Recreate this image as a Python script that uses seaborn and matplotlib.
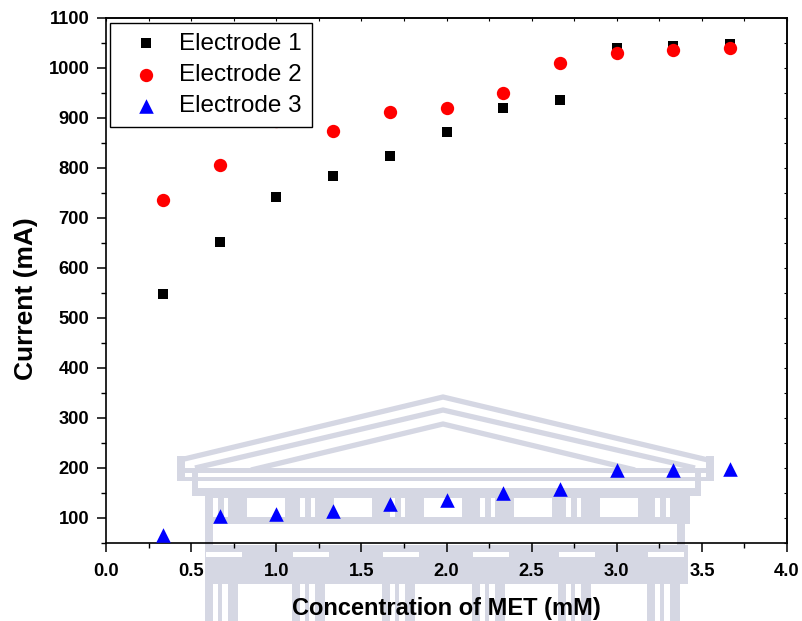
import matplotlib
matplotlib.use('Agg')
import matplotlib.pyplot as plt
import matplotlib.transforms as mtransforms
from matplotlib.patches import Rectangle
from matplotlib.lines import Line2D
from matplotlib.ticker import MultipleLocator
import seaborn as sns
import numpy as np

# ---------------- data ----------------
conc = [0.333, 0.667, 1.0, 1.333, 1.667, 2.0, 2.333, 2.667, 3.0, 3.333, 3.667]
electrode1 = [549, 653, 743, 784, 824, 873, 921, 937, 1041, 1045, 1049]
electrode2 = [736, 807, 895, 875, 912, 921, 951, 1010, 1031, 1037, 1041]
electrode3 = [66, 104, 109, 115, 128, 137, 151, 159, 196, 196, 199]
series_names = ['Electrode 1', 'Electrode 2', 'Electrode 3']
xticks = [0.0, 0.5, 1.0, 1.5, 2.0, 2.5, 3.0, 3.5, 4.0]
xtick_labels = ['0.0', '0.5', '1.0', '1.5', '2.0', '2.5', '3.0', '3.5', '4.0']
yticks = [100, 200, 300, 400, 500, 600, 700, 800, 900, 1000, 1100]
ytick_labels = ['100', '200', '300', '400', '500', '600', '700', '800', '900', '1000', '1100']
x_label = 'Concentration of MET (mM)'
y_label = 'Current (mA)'

sns.set_style('ticks')
plt.rcParams['font.family'] = ['Liberation Sans', 'DejaVu Sans']
plt.rcParams['text.color'] = 'black'
plt.rcParams['axes.labelcolor'] = 'black'
plt.rcParams['xtick.color'] = 'black'
plt.rcParams['ytick.color'] = 'black'

W, H = 802, 621
fig = plt.figure(figsize=(W / 100, H / 100), dpi=100)
fig.patch.set_facecolor('white')

# ---------------- faint background watermark (decorative building) ----------------
tr = mtransforms.Affine2D().scale(1 / W, -1 / H).translate(0, 1) + fig.transFigure
wm = '#d5d7e3'

def wrect(x0, y0, x1, y1, c=wm):
    fig.add_artist(Rectangle((x0, y0), x1 - x0, y1 - y0, transform=tr,
                             facecolor=c, edgecolor='none', zorder=-5))

def wline(pts, lw=3.8):
    xs = [p[0] for p in pts]
    ys = [p[1] for p in pts]
    fig.add_artist(Line2D(xs, ys, transform=tr, color=wm, lw=lw, zorder=-5,
                          solid_capstyle='butt', solid_joinstyle='miter'))

wline([(180, 460), (443, 397), (708, 460)])
wline([(195, 468), (443, 410), (695, 468)])
wline([(251, 470), (443, 424), (635, 470)])
wrect(177, 456, 185, 481)
wrect(706, 456, 714, 481)
wrect(184, 468, 707, 473)
wrect(184, 477, 707, 481)
wrect(192, 470, 198, 496)
wrect(695, 470, 701, 496)
wrect(192, 488, 701, 496)
wrect(205, 496, 690, 518)
groups = [205, 292, 382, 472, 558, 647]
for g in groups:
    wrect(g + 8, 498, g + 13, 517, 'white')
    wrect(g + 19, 498, g + 23, 517, 'white')
    if g + 82 < 690:
        wrect(g + 42, 498, g + 80, 517, 'white')
wrect(205, 518, 690, 524)
wrect(205, 524, 213, 545)
wrect(677, 524, 685, 545)
wrect(205, 545, 688, 584)
for g in groups:
    wrect(g + 1, 552, g + 37, 557, 'white')
    wrect(g, 584, g + 8, 621)
    wrect(g + 13, 584, g + 17, 621)
    wrect(g + 23, 584, g + 33, 621)

# ---------------- axes ----------------
ax = fig.add_axes([106 / W, 1 - 543 / H, 681 / W, 525 / H])
ax.patch.set_alpha(0)

sns.scatterplot(x=conc, y=electrode1, marker='s', color='black', s=62,
                linewidth=0, ax=ax, label=series_names[0], zorder=3)
sns.scatterplot(x=conc, y=electrode2, marker='o', color='#ff0000', s=92,
                linewidth=0, ax=ax, label=series_names[1], zorder=4)
sns.scatterplot(x=conc, y=electrode3, marker='^', color='#0000ff', s=110,
                linewidth=0, ax=ax, label=series_names[2], zorder=5)

ax.set_xlim(0, 4)
ax.set_ylim(50, 1100)
ax.set_xticks(xticks)
ax.set_xticklabels(xtick_labels)
ax.set_yticks(yticks)
ax.set_yticklabels(ytick_labels)
ax.xaxis.set_minor_locator(MultipleLocator(0.25))
ax.yaxis.set_minor_locator(MultipleLocator(50))

for sp in ax.spines.values():
    sp.set_visible(True)
    sp.set_linewidth(1.2)
    sp.set_color('black')

ax.tick_params(which='major', direction='out', length=6.5, width=1.1,
               color='black', labelsize=13.2, labelcolor='black')
ax.tick_params(axis='x', which='major', pad=8.0)
ax.tick_params(axis='y', which='major', pad=5.5)
ax.tick_params(which='minor', direction='out', length=3.5, width=1.0, color='black')
for lbl in ax.get_xticklabels() + ax.get_yticklabels():
    lbl.set_fontweight('bold')

# small inward ticks on top and right
secx = ax.secondary_xaxis('top')
secx.set_xticks(xticks)
secx.xaxis.set_minor_locator(MultipleLocator(0.25))
secx.tick_params(which='both', direction='in', length=2.5, width=0.8, labeltop=False)
secx.spines['top'].set_linewidth(1.2)
secy = ax.secondary_yaxis('right')
secy.set_yticks(yticks)
secy.yaxis.set_minor_locator(MultipleLocator(50))
secy.tick_params(which='both', direction='in', length=2.5, width=0.8, labelright=False)
secy.spines['right'].set_linewidth(1.2)

ax.set_xlabel(x_label, fontsize=17.0, fontweight='bold', labelpad=12.0, color='black')
ax.set_ylabel(y_label, fontsize=19.0, fontweight='bold', color='black')
ax.yaxis.set_label_coords((38 - 106) / 681, (543 - 299) / 525)

leg = ax.legend(loc='upper left', bbox_to_anchor=(4 / 681, 1 - 5 / 525),
                borderaxespad=0, frameon=True, fancybox=False, framealpha=1,
                edgecolor='black', prop={'family': ['Liberation Sans'], 'size': 17.5},
                borderpad=0.4, handlelength=2.15, handletextpad=0.3,
                labelspacing=0.38)
leg.get_frame().set_linewidth(1.0)
leg.set_zorder(10)
for t in leg.get_texts():
    t.set_color('black')

fig.savefig('out.png', dpi=100, facecolor='white')
